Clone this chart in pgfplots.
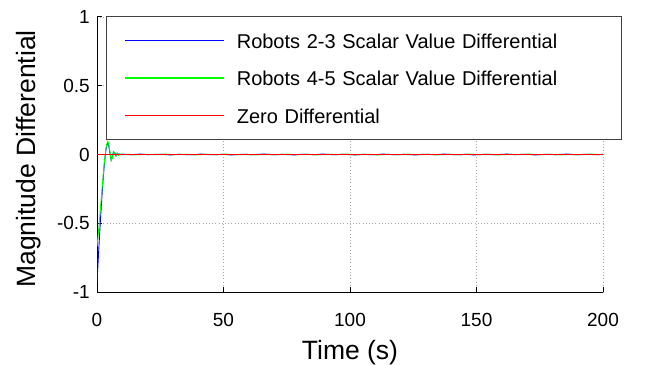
\documentclass[border=0pt]{standalone}
\usepackage{fontspec}
\setmainfont{Liberation Sans}
\usepackage{pgfplots}
\pgfplotsset{compat=1.18}

\definecolor{sigblue}{RGB}{0,0,255}
\definecolor{siggreen}{RGB}{0,255,0}
\definecolor{sigred}{RGB}{255,0,0}

\newcommand{\tickfont}{\fontsize{19bp}{23bp}\selectfont}
\newcommand{\legfont}{\fontsize{20bp}{24bp}\selectfont}
\newcommand{\labelfont}{\fontsize{26.5bp}{30bp}\selectfont}

\begin{document}
\begin{tikzpicture}
\useasboundingbox (0,0) rectangle (660bp,365bp);
\begin{axis}[
  at={(97bp,73bp)}, anchor=south west,
  scale only axis, width=506bp, height=275bp,
  xmin=0, xmax=200, ymin=-1, ymax=1,
  xtick={0,50,100,150,200},
  ytick={-1,-0.5,0,0.5,1},
  yticklabels={-1,-0.5,0,0.5,1},
  axis lines=left, axis line style={-, black, line width=1bp},
  tick align=inside, major tick length=5bp,
  tick style={black, line width=1bp},
  grid=major,
  major grid style={gray!70, line width=0.6bp, dash pattern=on 0.8bp off 2.4bp},
  /pgf/number format/assume math mode=true,
  ticklabel style={font=\tickfont},
  xticklabel style={inner sep=0pt, yshift=-21bp},
  yticklabel style={inner sep=0pt, xshift=-7bp},
  xlabel={Time (s)}, ylabel={Magnitude Differential},
  every axis x label/.style={at={(axis description cs:0.5,-0.247)}, anchor=base, font=\labelfont},
  every axis y label/.style={at={(axis description cs:-0.1225,0.484)}, anchor=base, rotate=90, font=\labelfont},
  legend style={
    at={(axis description cs:0.0178,1.0036)}, anchor=north west,
    draw=black!75, line width=1bp, fill=white,
    inner xsep=18bp, inner ysep=13bp,
    font=\legfont,
    row sep=15.5bp,
    nodes={inner sep=0pt},
    /tikz/every odd column/.append style={column sep=12bp},
    /tikz/every even column/.append style={nodes={text width=367bp, text height=18.5bp, text depth=3.5bp}},
  },
  legend cell align=left,
  legend image code/.code={\draw[#1, line width=1.3bp] (0bp,0bp) -- (99bp,0bp);},
]

% first pair of robots: converges from -0.93 with a slight overshoot
\addplot[sigblue, line width=0.9bp] coordinates {
  (0,-0.93) (0.5,-0.76) (1,-0.59) (1.5,-0.43) (2,-0.29) (2.5,-0.16) (3,-0.05)
  (3.5,0.03) (4,0.075) (4.3,0.085) (4.7,0.06) (5.2,0.0) (5.6,-0.04) (6,-0.02)
  (6.5,0.02) (7,0.012) (7.5,-0.01) (8,0.008) (9,-0.002) (10,0.003)
  (13,-0.002) (17,0.003) (20,-0.001) (25,0.002) (29,-0.003) (32,0.001) (38,-0.002)
  (41,0.003) (45,-0.002) (50,0.001) (53,-0.003) (58,0.002) (61,-0.001) (66,0.003)
  (70,-0.002) (73,0.001) (78,-0.003) (81,0.002) (86,-0.001) (89,0.003) (94,-0.002)
  (97,0.002) (102,-0.003) (105,0.001) (110,-0.002) (113,0.003) (118,-0.002) (121,0.001)
  (126,-0.003) (129,0.002) (134,-0.001) (137,0.003) (142,-0.002) (146,0.001) (149,-0.003)
  (154,0.002) (157,-0.002) (162,0.003) (165,-0.001) (170,0.002) (173,-0.003) (178,0.002)
  (181,-0.001) (186,0.003) (189,-0.002) (194,0.002) (197,-0.002) (200,0.001)
};
\addlegendentry{Robots 2-3 Scalar Value Differential}

% second pair of robots: converges from -0.67
\addplot[siggreen, line width=0.9bp] coordinates {
  (0,-0.67) (0.5,-0.58) (1,-0.47) (1.5,-0.36) (2,-0.25) (2.5,-0.14) (3,-0.04)
  (3.5,0.04) (4,0.085) (4.3,0.095) (4.7,0.07) (5.2,0.01) (5.6,-0.045) (6,-0.03)
  (6.5,0.02) (7,0.015) (7.5,-0.01) (8,0.012) (8.5,-0.005) (9,0.005) (10,-0.003)
  (12,0.002) (15,-0.003) (19,0.002) (23,-0.002) (27,0.003) (30,-0.001) (35,0.002)
  (39,-0.003) (43,0.002) (47,-0.001) (51,0.003) (55,-0.002) (59,0.001) (63,-0.003)
  (67,0.002) (71,-0.002) (75,0.003) (79,-0.001) (83,0.002) (87,-0.003) (91,0.002)
  (95,-0.001) (99,0.003) (103,-0.002) (107,0.002) (111,-0.003) (115,0.001) (119,-0.002)
  (123,0.003) (127,-0.002) (131,0.001) (135,-0.003) (139,0.002) (143,-0.002) (147,0.003)
  (151,-0.001) (155,0.002) (159,-0.003) (163,0.002) (167,-0.001) (171,0.003) (175,-0.002)
  (179,0.002) (183,-0.003) (187,0.001) (191,-0.002) (195,0.003) (200,-0.001)
};
\addlegendentry{Robots 4-5 Scalar Value Differential}

% reference level
\addplot[sigred, line width=1.3bp] coordinates {(0,0) (200,0)};
\addlegendentry{Zero Differential}

\end{axis}
\end{tikzpicture}
\end{document}
